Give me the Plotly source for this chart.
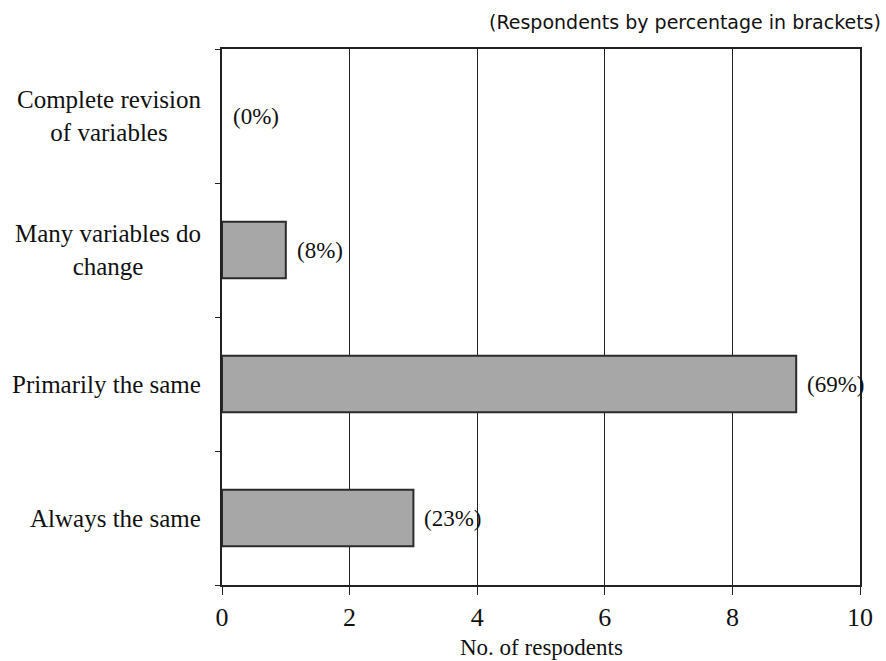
import plotly.graph_objects as go

# Survey responses: how much the variable set changes between uses
categories = [
    "Complete revision<br>of variables",
    "Many variables do<br>change",
    "Primarily the same",
    "Always the same",
]
respondents = [0, 1, 9, 3]
percent_labels = ["(0%)", "(8%)", "(69%)", "(23%)"]
x_ticks = [0, 2, 4, 6, 8, 10]

SERIF = "Liberation Serif, Times New Roman, serif"

fig = go.Figure(
    go.Bar(
        x=respondents,
        y=categories,
        orientation="h",
        width=0.42,
        marker=dict(
            color="#a7a7a7",
            line=dict(color="#2b2b2b", width=[0 if v == 0 else 2 for v in respondents]),
        ),
        hoverinfo="skip",
    )
)

# Category names, centred on each line and right-aligned against the axis
for cat in categories:
    fig.add_annotation(
        x=0, xref="paper", y=cat, yref="y",
        text=cat, showarrow=False,
        xanchor="right", align="center", xshift=-19,
        font=dict(family=SERIF, size=25, color="#111"),
    )

# Percentage share to the right of each bar
for val, cat, lab in zip(respondents, categories, percent_labels):
    fig.add_annotation(
        x=val, y=cat, text=lab, showarrow=False,
        xanchor="left", xshift=9,
        font=dict(family=SERIF, size=23, color="#111"),
    )

fig.add_annotation(
    x=1, xref="paper", y=1, yref="paper",
    text="(Respondents by percentage in brackets)", showarrow=False,
    xanchor="right", yanchor="bottom", xshift=23, yshift=14,
    font=dict(family="DejaVu Sans, Verdana, sans-serif", size=19, color="#111"),
)

# Axis title sits just under the tick labels
fig.add_annotation(
    x=0.5, xref="paper", y=0, yref="paper",
    text="No. of respodents", showarrow=False,
    xanchor="center", yanchor="middle", yshift=-62,
    font=dict(family=SERIF, size=23, color="#111"),
)

fig.update_layout(
    width=886, height=661,
    margin=dict(l=222, r=26, t=49, b=76),
    paper_bgcolor="white", plot_bgcolor="white",
    showlegend=False,
    bargap=0.58,
    xaxis=dict(
        range=[0, 10], tickvals=x_ticks,
        automargin=False,
        showgrid=True, gridcolor="#222", gridwidth=1,
        zeroline=False,
        showline=True, linecolor="#222", linewidth=1.5, mirror=True,
        ticks="outside", ticklen=8, tickcolor="#222",
        tickfont=dict(family=SERIF, size=26, color="#111"),
    ),
    yaxis=dict(
        categoryorder="array", categoryarray=categories[::-1],
        automargin=False,
        showticklabels=False,
        showgrid=False, zeroline=False,
        showline=True, linecolor="#222", linewidth=1.5, mirror=True,
        ticks="outside", ticklen=5, tickcolor="#222",
        tickson="boundaries",
    ),
)

fig.write_html("out.html")
